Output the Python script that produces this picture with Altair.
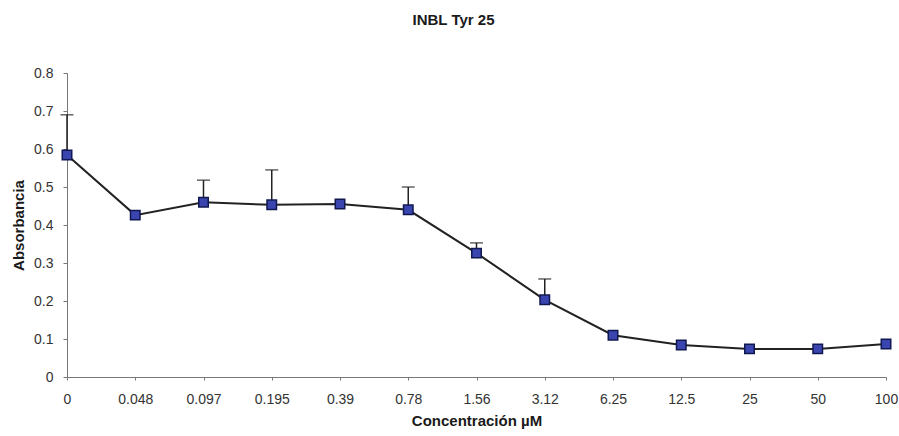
import altair as alt
import pandas as pd

conc = ["0", "0.048", "0.097", "0.195", "0.39", "0.78", "1.56", "3.12",
        "6.25", "12.5", "25", "50", "100"]
absorb = [0.584, 0.426, 0.460, 0.453, 0.455, 0.440, 0.326, 0.203,
          0.110, 0.084, 0.074, 0.074, 0.087]
err_top = [0.690, None, 0.518, 0.545, None, 0.500, 0.353, 0.258,
           None, None, None, None, None]
y_ticks = [0, 0.1, 0.2, 0.3, 0.4, 0.5, 0.6, 0.7, 0.8]

df = pd.DataFrame({"conc": conc, "abs": absorb, "top": err_top})
err_df = df.dropna(subset=["top"])

FONT = "Liberation Sans"

x_scale = alt.Scale(type="point", padding=0)
x_axis = alt.Axis(labelAngle=0, labelFontSize=14, labelPadding=12,
                  titleFontSize=15, titleFontWeight="bold",
                  titlePadding=7, tickSize=3,
                  domainColor="#777", tickColor="#777",
                  labelColor="#333", titleColor="#1a1a1a")
y_scale = alt.Scale(domain=[0, 0.8])
y_axis = alt.Axis(values=y_ticks, tickCount=9,
                  format=".1~f", grid=False, labelFontSize=14, tickSize=4,
                  labelPadding=10, labelOverlap=False,
                  titleFontSize=15, titleFontWeight="bold", titlePadding=7,
                  domainColor="#777", tickColor="#777",
                  labelColor="#333", titleColor="#1a1a1a")

X = alt.X("conc:N", sort=conc, title="Concentración µM", scale=x_scale,
          axis=x_axis)

rules = alt.Chart(err_df).mark_rule(color="#222", strokeWidth=1.5).encode(
    x=X,
    y=alt.Y("abs:Q", title="Absorbancia", scale=y_scale, axis=y_axis),
    y2="top:Q",
)
caps = alt.Chart(err_df).mark_tick(color="#222", thickness=1.5, size=13,
                                   orient="horizontal").encode(
    x=X,
    y=alt.Y("top:Q", title="Absorbancia", scale=y_scale, axis=y_axis),
)
line = alt.Chart(df).mark_line(color="#222", strokeWidth=2).encode(
    x=X,
    y=alt.Y("abs:Q", title="Absorbancia", scale=y_scale, axis=y_axis),
)
points = alt.Chart(df).mark_point(shape="square", filled=True, size=90,
                                  fill="#3a45b0", stroke="#101850",
                                  strokeWidth=1.5, opacity=1).encode(
    x=X,
    y=alt.Y("abs:Q", title="Absorbancia", scale=y_scale, axis=y_axis),
)

chart = alt.layer(rules, caps, line, points).properties(
    width=819, height=304,
    title=alt.Title("INBL Tyr 25", fontSize=15, fontWeight="bold",
                    font=FONT, color="#1a1a1a", anchor="middle", dx=-23,
                    offset=38),
    autosize=alt.AutoSizeParams(type="none"),
    padding={"left": 67, "top": 73, "right": 13, "bottom": 59},
).configure(font=FONT).configure_view(stroke=None).configure_axis(
    labelFont=FONT, titleFont=FONT)

chart.save("out.html", embed_options={"renderer": "svg", "actions": False})
